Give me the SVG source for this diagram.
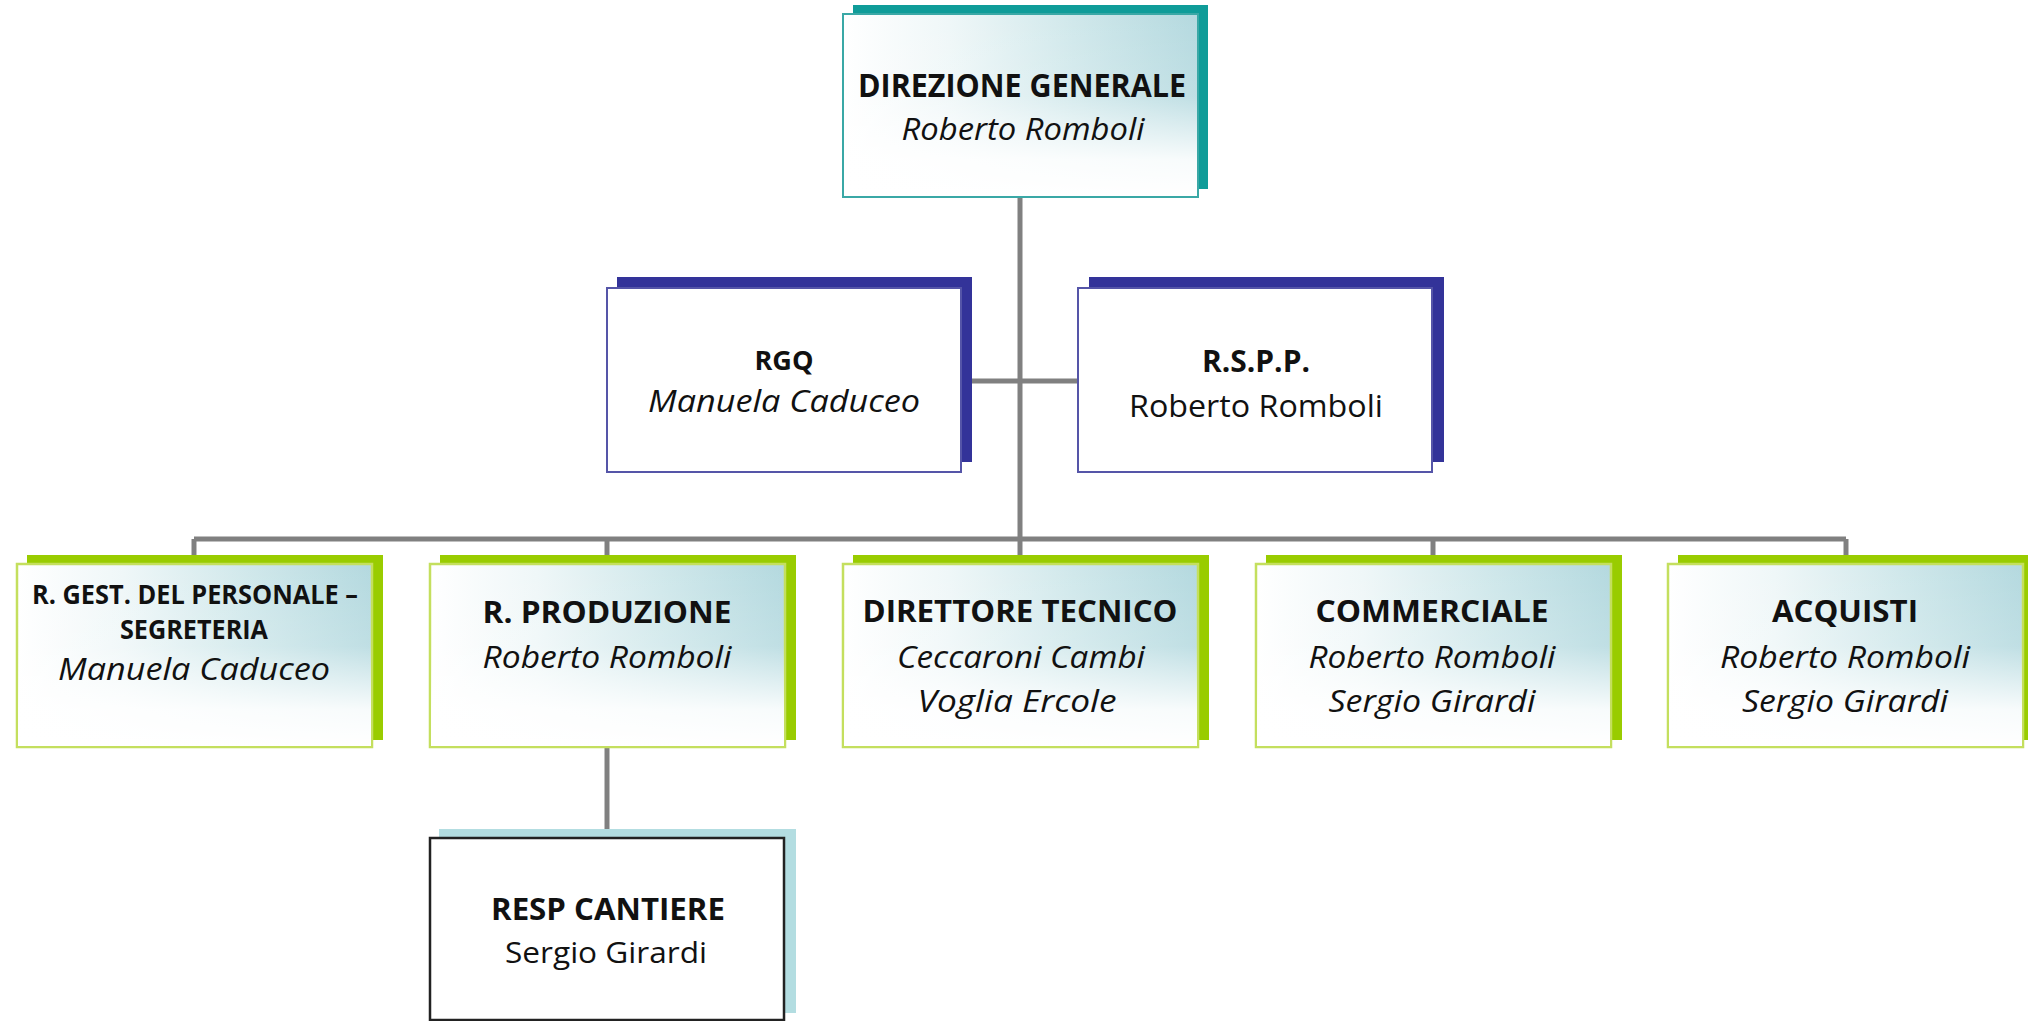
<svg xmlns="http://www.w3.org/2000/svg" width="2028" height="1021" viewBox="0 0 2028 1021">
<defs>
<linearGradient id="gh" x1="0" y1="0" x2="1" y2="0">
<stop offset="0" stop-color="#ffffff"/>
<stop offset="0.3" stop-color="#eff7f8"/>
<stop offset="0.65" stop-color="#d0e8eb"/>
<stop offset="1" stop-color="#b4d9df"/>
</linearGradient>
<linearGradient id="gv" x1="0" y1="0" x2="0" y2="1">
<stop offset="0" stop-color="#ffffff" stop-opacity="0"/>
<stop offset="0.45" stop-color="#ffffff" stop-opacity="0.15"/>
<stop offset="0.8" stop-color="#ffffff" stop-opacity="0.9"/>
<stop offset="1" stop-color="#ffffff" stop-opacity="1"/>
</linearGradient>
<style>
.conn{stroke:#808080;stroke-width:5;fill:none}
.sh-teal{fill:#0f9c99}
.sh-blue{fill:#333399}
.sh-green{fill:#99cc00}
.sh-light{fill:#b3dde1}
.fr-teal{fill:url(#gh);stroke:#3aa8a6;stroke-width:2}
.fr-green{fill:url(#gh);stroke:#c4df5e;stroke-width:2.5}
.fr-blue{fill:#ffffff;stroke:#5555a8;stroke-width:2}
.fr-black{fill:#ffffff;stroke:#222222;stroke-width:2.5}
.ov{fill:url(#gv);stroke:none}
text{font-family:"Open Sans","Noto Sans","Liberation Sans",sans-serif;fill:#111111;text-anchor:middle}
.b{font-weight:bold}
.i{font-style:italic}
</style>
</defs>
<rect width="2028" height="1021" fill="#ffffff"/>
<g id="connectors">
<line class="conn" x1="1020" y1="197" x2="1020" y2="539"/>
<line class="conn" x1="961" y1="381" x2="1078" y2="381"/>
<line class="conn" x1="194" y1="539" x2="1846" y2="539"/>
<line class="conn" x1="194" y1="539" x2="194" y2="556"/>
<line class="conn" x1="607" y1="539" x2="607" y2="556"/>
<line class="conn" x1="1020" y1="539" x2="1020" y2="556"/>
<line class="conn" x1="1433" y1="539" x2="1433" y2="556"/>
<line class="conn" x1="1846" y1="539" x2="1846" y2="556"/>
<line class="conn" x1="607" y1="747" x2="607" y2="830"/>
</g>
<g id="node-direzione">
<rect class="sh-teal" x="853" y="5" width="355" height="184"/>
<rect class="fr-teal" x="843" y="14" width="355" height="183"/>
<rect class="ov" x="844" y="15" width="353" height="181"/>
<text class="b" x="1022" y="97" font-size="32" textLength="328" lengthAdjust="spacingAndGlyphs">DIREZIONE GENERALE</text>
<text class="i" x="1023" y="140" font-size="31" textLength="243" lengthAdjust="spacingAndGlyphs">Roberto Romboli</text>
</g>
<g id="node-rgq">
<rect class="sh-blue" x="617" y="277" width="355" height="185"/>
<rect class="fr-blue" x="607" y="288" width="354" height="184"/>
<text class="b" x="784" y="370" font-size="26" textLength="59" lengthAdjust="spacingAndGlyphs">RGQ</text>
<text class="i" x="784" y="412" font-size="31" textLength="272" lengthAdjust="spacingAndGlyphs">Manuela Caduceo</text>
</g>
<g id="node-rspp">
<rect class="sh-blue" x="1089" y="277" width="355" height="185"/>
<rect class="fr-blue" x="1078" y="288" width="354" height="184"/>
<text class="b" x="1256" y="372" font-size="31" textLength="108" lengthAdjust="spacingAndGlyphs">R.S.P.P.</text>
<text x="1256" y="417" font-size="31" textLength="254" lengthAdjust="spacingAndGlyphs">Roberto Romboli</text>
</g>
<g id="node-personale">
<rect class="sh-green" x="27" y="555" width="356" height="185"/>
<rect class="fr-green" x="17" y="564" width="355" height="183"/>
<rect class="ov" x="18" y="565" width="353" height="181"/>
<text class="b" x="195" y="604" font-size="26" textLength="326" lengthAdjust="spacingAndGlyphs">R. GEST. DEL PERSONALE –</text>
<text class="b" x="194" y="639" font-size="26" textLength="148" lengthAdjust="spacingAndGlyphs">SEGRETERIA</text>
<text class="i" x="194" y="680" font-size="31" textLength="272" lengthAdjust="spacingAndGlyphs">Manuela Caduceo</text>
</g>
<g id="node-produzione">
<rect class="sh-green" x="440" y="555" width="356" height="185"/>
<rect class="fr-green" x="430" y="564" width="355" height="183"/>
<rect class="ov" x="431" y="565" width="353" height="181"/>
<text class="b" x="607" y="623" font-size="30" textLength="249" lengthAdjust="spacingAndGlyphs">R. PRODUZIONE</text>
<text class="i" x="607" y="668" font-size="31" textLength="249" lengthAdjust="spacingAndGlyphs">Roberto Romboli</text>
</g>
<g id="node-direttore">
<rect class="sh-green" x="853" y="555" width="356" height="185"/>
<rect class="fr-green" x="843" y="564" width="355" height="183"/>
<rect class="ov" x="844" y="565" width="353" height="181"/>
<text class="b" x="1020" y="622" font-size="30" textLength="315" lengthAdjust="spacingAndGlyphs">DIRETTORE TECNICO</text>
<text class="i" x="1021" y="668" font-size="31" textLength="248" lengthAdjust="spacingAndGlyphs">Ceccaroni Cambi</text>
<text class="i" x="1017" y="712" font-size="31" textLength="199" lengthAdjust="spacingAndGlyphs">Voglia Ercole</text>
</g>
<g id="node-commerciale">
<rect class="sh-green" x="1266" y="555" width="356" height="185"/>
<rect class="fr-green" x="1256" y="564" width="355" height="183"/>
<rect class="ov" x="1257" y="565" width="353" height="181"/>
<text class="b" x="1432" y="622" font-size="30" textLength="233" lengthAdjust="spacingAndGlyphs">COMMERCIALE</text>
<text class="i" x="1432" y="668" font-size="31" textLength="247" lengthAdjust="spacingAndGlyphs">Roberto Romboli</text>
<text class="i" x="1432" y="712" font-size="31" textLength="207" lengthAdjust="spacingAndGlyphs">Sergio Girardi</text>
</g>
<g id="node-acquisti">
<rect class="sh-green" x="1678" y="555" width="356" height="185"/>
<rect class="fr-green" x="1668" y="564" width="355" height="183"/>
<rect class="ov" x="1669" y="565" width="353" height="181"/>
<text class="b" x="1845" y="622" font-size="30" textLength="146" lengthAdjust="spacingAndGlyphs">ACQUISTI</text>
<text class="i" x="1845" y="668" font-size="31" textLength="250" lengthAdjust="spacingAndGlyphs">Roberto Romboli</text>
<text class="i" x="1845" y="712" font-size="31" textLength="206" lengthAdjust="spacingAndGlyphs">Sergio Girardi</text>
</g>
<g id="node-cantiere">
<rect class="sh-light" x="439" y="829" width="357" height="184"/>
<rect class="fr-black" x="430" y="838" width="354" height="182"/>
<text class="b" x="608" y="920" font-size="30" textLength="234" lengthAdjust="spacingAndGlyphs">RESP CANTIERE</text>
<text x="606" y="963" font-size="30" textLength="202" lengthAdjust="spacingAndGlyphs">Sergio Girardi</text>
</g>
</svg>
